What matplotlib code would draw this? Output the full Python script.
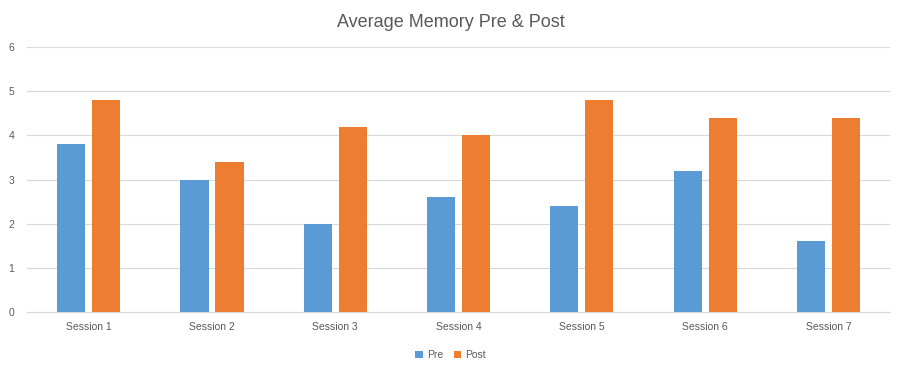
import matplotlib.pyplot as plt
import numpy as np

# data
sessions = ['Session 1', 'Session 2', 'Session 3', 'Session 4', 'Session 5', 'Session 6', 'Session 7']
pre = [3.8, 3.0, 2.0, 2.6, 2.4, 3.2, 1.6]
post = [4.8, 3.4, 4.2, 4.0, 4.8, 4.4, 4.4]

plt.rcParams['font.family'] = ['Liberation Sans', 'DejaVu Sans']
text_col = '#595959'
grid_col = '#D9D9D9'

fig = plt.figure(figsize=(9.01, 3.73), dpi=100)
ax = fig.add_axes([0.030, 0.1635, 0.958, 0.7105])

x = np.arange(len(sessions))
w = 0.228
off = 0.142
ax.bar(x - off, pre, w, color='#5B9BD5', label='Pre', zorder=3)
ax.bar(x + off, post, w, color='#ED7D31', label='Post', zorder=3)

ax.set_xlim(-0.5, len(sessions) - 0.5)
ax.set_ylim(0, 6)
ax.set_yticks(range(0, 7))
ax.set_xticks(x)
ax.set_xticklabels(sessions)
ax.tick_params(length=0, colors=text_col, labelsize=7.5)
ax.tick_params(axis='x', pad=7)
ax.tick_params(axis='y', pad=9)
ax.grid(axis='y', color=grid_col, linewidth=0.8, zorder=0)
for s in ['top', 'right', 'left']:
    ax.spines[s].set_visible(False)
ax.spines['bottom'].set_color(grid_col)
ax.spines['bottom'].set_linewidth(0.8)

fig.suptitle('Average Memory Pre & Post', y=0.962, fontsize=13, color=text_col)
fig.legend(loc='center', bbox_to_anchor=(0.5, 0.048), ncol=2, frameon=False,
           fontsize=7.5, handlelength=0.7, handleheight=0.7, handletextpad=0.4,
           columnspacing=1.0, labelcolor=text_col)

fig.savefig('out.png', dpi=100)
